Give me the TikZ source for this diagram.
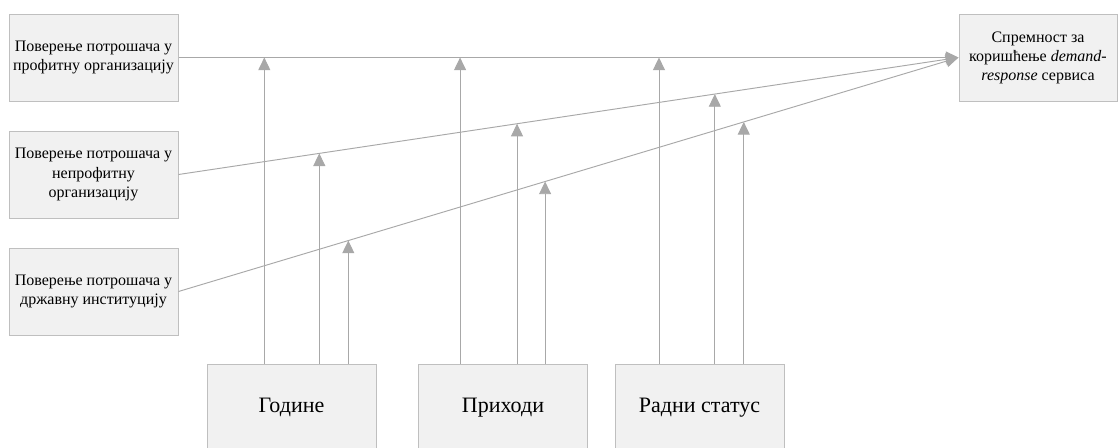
\documentclass[tikz,border=0pt]{standalone}
\usepackage{fontspec}
\setmainfont{Liberation Serif}
\usetikzlibrary{arrows.meta}

\definecolor{okvir}{HTML}{BFBFBF}
\definecolor{pozadina}{HTML}{F1F1F1}
\definecolor{linija}{HTML}{A8A8A8}

\tikzset{
	box/.style={draw=okvir, fill=pozadina, line width=0.75pt, minimum width=126.75pt, minimum height=65.25pt, inner sep=2pt, align=center, font=\fontsize{12}{14.3}\selectfont},
	faktor/.style={box, font=\fontsize{16.5}{19}\selectfont},
	veza/.style={draw=linija, line width=0.7pt, -{Triangle[length=9.5pt, width=9pt]}},
}

\begin{document}
\begin{tikzpicture}[x=0.75pt, y=-0.75pt]
	\clip (0,0) rectangle (1118,447);
	\fill[white] (0,0) rectangle (1118,447);
	% nezavisne promenljive
	\node[box] (pprof) at (93.5,57.5) {Поверење потрошача у\\профитну организацију};
	\node[box] (pneprof) at (93.5,174.5) {Поверење потрошача у\\непрофитну\\организацију};
	\node[box] (pdrz) at (93.5,291.5) {Поверење потрошача у\\државну институцију};
	% zavisna promenljiva
	\node[box, minimum width=118.5pt] (spremnost) at (1038,57.5) {Спремност за\\коришћење \textit{demand-}\\\textit{response} сервиса};
	% moderatori
	\node[faktor] (godine) at (291.5,407.5) {Године};
	\node[faktor] (prihodi) at (503,407.5) {Приходи};
	\node[faktor] (status) at (699.5,407.5) {Радни статус};
	\draw[veza] (pprof.east) -- coordinate[pos=0.110] (m11) coordinate[pos=0.361] (m12) coordinate[pos=0.616] (m13) (spremnost.west);
	\draw[veza] (pneprof.east) -- coordinate[pos=0.1805] (m21) coordinate[pos=0.434] (m22) coordinate[pos=0.6876] (m23) (spremnost.west);
	\draw[veza] (pdrz.east) -- coordinate[pos=0.2177] (m31) coordinate[pos=0.470] (m32) coordinate[pos=0.7247] (m33) (spremnost.west);
	\draw[veza] (m11 |- godine.north) -- (m11);
	\draw[veza] (m21 |- godine.north) -- (m21);
	\draw[veza] (m31 |- godine.north) -- (m31);
	\draw[veza] (m12 |- prihodi.north) -- (m12);
	\draw[veza] (m22 |- prihodi.north) -- (m22);
	\draw[veza] (m32 |- prihodi.north) -- (m32);
	\draw[veza] (m13 |- status.north) -- (m13);
	\draw[veza] (m23 |- status.north) -- (m23);
	\draw[veza] (m33 |- status.north) -- (m33);
\end{tikzpicture}
\end{document}
